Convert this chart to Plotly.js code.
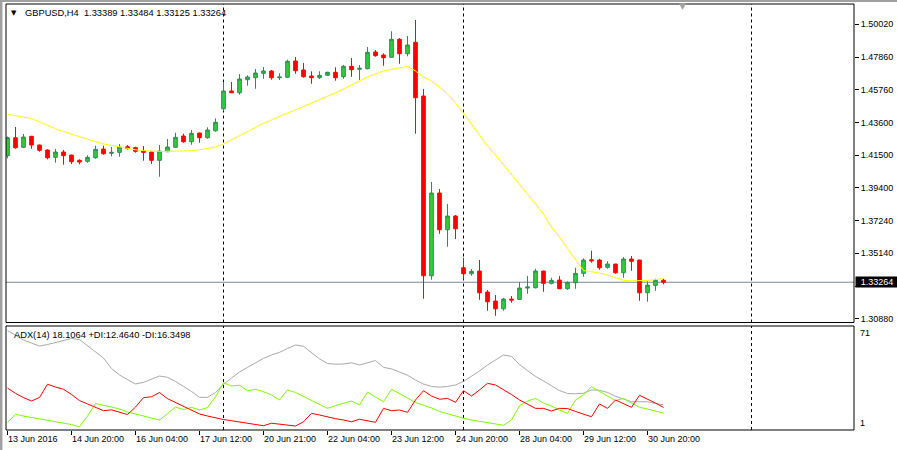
<!DOCTYPE html>
<html>
<head>
<meta charset="utf-8">
<script src="https://cdn.plot.ly/plotly-3.0.1.min.js"></script>
<style>html,body{margin:0;padding:0;background:#fff;}#chart{width:897px;height:450px;}</style>
</head>
<body>
<div id="chart"></div>
<script>
// ---- Data (GBPUSD, H4) ----
const symbolTitle = "GBPUSD,H4\u00a0\u00a01.33389 1.33484 1.33125 1.33264";
const adxTitle = "ADX(14) 18.1064 +DI:12.4640 -DI:16.3498";

const opens = [1.41473,1.42641,1.42018,1.42732,1.42167,1.41843,1.41369,1.41713,1.41518,1.41174,
1.41109,1.41343,1.41907,1.41628,1.41693,1.42057,1.41992,1.41778,1.41713,1.41174,
1.41732,1.42018,1.42751,1.42381,1.42946,1.42641,1.43095,1.44523,1.45672,1.45561,
1.46405,1.46535,1.46820,1.46970,1.46535,1.46561,1.47619,1.47035,1.46645,1.46535,
1.46691,1.46885,1.46600,1.47275,1.47080,1.47119,1.48203,1.48008,1.47859,1.49027,
1.48092,1.48832,1.45347,1.33685,1.39052,1.36670,1.37559,1.34204,1.33814,1.33990,
1.32627,1.32043,1.31543,1.32172,1.32150,1.32886,1.32906,1.33990,1.33191,1.33406,
1.32841,1.33230,1.33840,1.34723,1.34704,1.34230,1.34444,1.33879,1.34768,1.34704,
1.32581,1.33062,1.33389];
const highs = [1.42719,1.43335,1.42881,1.42760,1.42190,1.41888,1.41907,1.41843,1.41540,1.41239,
1.41499,1.42122,1.42122,1.42037,1.42232,1.42167,1.42057,1.42102,1.41740,1.42167,
1.42556,1.42965,1.42900,1.43141,1.42970,1.43316,1.43900,1.46236,1.46256,1.46775,
1.46691,1.47099,1.47229,1.47035,1.46820,1.47703,1.47878,1.47489,1.46950,1.46950,
1.46924,1.47210,1.47359,1.47813,1.47359,1.48527,1.48333,1.48118,1.49546,1.49111,
1.49241,1.50280,1.45801,1.39766,1.39311,1.38338,1.37624,1.34853,1.34120,1.34704,
1.32757,1.32432,1.32237,1.32367,1.33276,1.33665,1.34139,1.34010,1.33555,1.33665,
1.33321,1.34204,1.34814,1.35307,1.34788,1.34619,1.34460,1.34898,1.34963,1.34720,
1.33321,1.33490,1.33484];
const lows = [1.41304,1.41927,1.41973,1.41927,1.41732,1.41239,1.41018,1.40889,1.40934,1.40915,
1.41018,1.41278,1.41538,1.41434,1.41408,1.41888,1.41667,1.41148,1.40934,1.40110,
1.41710,1.42000,1.42316,1.42187,1.42316,1.42576,1.43030,1.44374,1.45540,1.45432,
1.46016,1.45821,1.46470,1.46405,1.46386,1.46540,1.46794,1.46535,1.46145,1.46450,
1.46665,1.46340,1.46470,1.46600,1.46386,1.47080,1.47898,1.47314,1.47840,1.47443,
1.47924,1.42900,1.32192,1.33425,1.36410,1.35567,1.36066,1.33451,1.33685,1.32127,
1.31413,1.31089,1.31413,1.31932,1.32130,1.32516,1.32867,1.32646,1.33127,1.32820,
1.32776,1.32841,1.33620,1.34528,1.34074,1.34139,1.33814,1.33555,1.34009,1.32062,
1.31997,1.32711,1.33125];
const closes = [1.42641,1.41992,1.42686,1.42167,1.41823,1.41343,1.41713,1.41473,1.41083,1.41064,
1.41369,1.41888,1.41602,1.41693,1.42037,1.41927,1.41758,1.41693,1.41174,1.41778,
1.42037,1.42667,1.42381,1.42926,1.42641,1.43141,1.43640,1.45672,1.45561,1.46450,
1.46580,1.46840,1.46970,1.46535,1.46580,1.47599,1.46989,1.46600,1.46535,1.46691,
1.46885,1.46535,1.47275,1.47054,1.47145,1.48183,1.47963,1.47833,1.49027,1.48092,
1.48657,1.45237,1.33685,1.39052,1.36670,1.37559,1.36735,1.33814,1.33970,1.32581,
1.31997,1.31543,1.32172,1.32108,1.32886,1.32951,1.33990,1.33191,1.33386,1.32841,
1.33256,1.33840,1.34704,1.34658,1.34204,1.34444,1.33879,1.34768,1.34619,1.32581,
1.33081,1.33389,1.33264];
const movingAvg = [1.44160,1.44082,1.44004,1.43887,1.43679,1.43446,1.43218,1.43043,1.42868,1.42699,
1.42544,1.42381,1.42238,1.42135,1.42031,1.41940,1.41856,1.41804,1.41765,1.41758,
1.41758,1.41765,1.41771,1.41797,1.41856,1.41933,1.42037,1.42232,1.42511,1.42777,
1.43037,1.43303,1.43569,1.43809,1.44023,1.44237,1.44452,1.44666,1.44880,1.45094,
1.45308,1.45542,1.45801,1.46061,1.46321,1.46580,1.46781,1.46970,1.47074,1.47177,
1.47275,1.46970,1.46580,1.46321,1.45931,1.45477,1.44893,1.44224,1.43530,1.42816,
1.42102,1.41518,1.40902,1.40285,1.39604,1.38987,1.38338,1.37689,1.36845,1.36196,
1.35450,1.34704,1.34022,1.33938,1.33860,1.33730,1.33568,1.33393,1.33354,1.33354,
1.33386,1.33438,1.33516];
const adx = [68.6,65.2,62.2,60.1,58.1,59.1,60.5,61.8,63.2,62.5,
58.4,53.7,49.9,42.8,38.4,35.2,32.3,33.4,35.3,37.7,
36.8,34.0,30.6,27.2,23.2,23.2,26.5,32.1,36.3,40.4,
43.6,46.9,49.7,52.0,53.8,56.4,58.8,57.9,53.3,49.3,
46.2,45.7,45.9,46.7,45.2,46.9,48.2,43.6,42.5,40.4,
38.2,35.0,32.3,30.6,30.1,30.6,31.6,34.0,37.4,41.1,
45.2,48.6,52.0,51.0,45.5,41.4,37.4,34.3,31.2,27.8,
25.8,25.6,26.0,28.2,28.0,26.5,23.9,21.9,20.2,20.2,
20.2,19.0,18.1064];
const plusDI = [6.1,11.7,10.5,9.5,8.5,7.6,6.8,5.9,4.7,3.2,
10.5,19.0,18.0,16.6,15.3,13.2,11.9,10.5,9.2,7.8,
12.2,16.6,14.9,16.4,14.6,16.2,23.6,33.1,30.9,31.4,
27.7,28.7,27.0,24.8,21.4,28.2,26.5,23.8,20.7,18.3,
15.7,17.6,19.3,20.7,18.0,26.8,23.4,20.2,28.7,25.5,
22.7,19.7,18.0,16.0,13.6,11.9,10.2,9.0,7.8,6.8,
5.8,4.9,4.2,7.8,17.6,20.7,22.5,19.3,17.3,14.6,
12.3,21.4,24.8,30.4,27.5,24.1,21.0,22.5,19.3,16.4,
15.3,13.9,12.464];
const minusDI = [29.5,25.9,23.0,20.7,23.1,32.1,30.2,28.7,25.1,21.0,
18.7,16.6,14.1,14.7,12.9,11.5,16.6,23.0,23.6,26.5,
22.3,19.6,16.8,14.3,11.9,10.5,9.2,8.1,7.3,6.4,
5.6,4.7,3.9,5.6,5.1,4.4,3.7,6.6,12.3,11.2,
9.8,8.7,7.8,6.6,8.3,7.1,6.2,15.7,14.1,14.6,
13.0,21.4,27.7,24.1,21.9,22.5,19.8,27.7,24.1,28.2,
32.7,31.6,28.5,25.1,21.4,18.3,15.7,15.7,13.9,15.7,
15.6,13.6,11.7,10.0,18.7,15.7,21.4,19.0,16.4,24.6,
22.1,19.3,16.3498];

const tickBars = [0,8,16,24,32,40,48,56,64,72,80];
const tickLabels = ["13 Jun 2016","14 Jun 20:00","16 Jun 04:00","17 Jun 12:00","20 Jun 21:00",
  "22 Jun 04:00","23 Jun 12:00","24 Jun 20:00","28 Jun 04:00","29 Jun 12:00","30 Jun 20:00"];
const priceTicks = [1.30880,1.32980,1.35140,1.37240,1.39400,1.41500,1.43600,1.45760,1.47860,1.50020];
const separators = [27,57,93];
const adxScale = [1,71];
const bidPrice = 1.33264;

// ---- Chart ----
const idx = opens.map((_, i) => i);
const FONT = "Liberation Sans, Arial, sans-serif";
// the tick right under the bid-price box is hidden by it in the reference
const priceTickText = priceTicks.map(v => Math.abs(v - bidPrice) < 0.006 ? '' : v.toFixed(5));

const traces = [
  {
    type: 'candlestick', x: idx, open: opens, high: highs, low: lows, close: closes,
    xaxis: 'x', yaxis: 'y',
    increasing: {line: {color: '#2e8b57', width: 1}, fillcolor: '#32cd32'},
    decreasing: {line: {color: '#ff0000', width: 1}, fillcolor: '#ff0000'},
    whiskerwidth: 0, hoverinfo: 'skip'
  },
  {type: 'scatter', mode: 'lines', x: idx, y: movingAvg, xaxis: 'x', yaxis: 'y',
   line: {color: '#ffff00', width: 1}, hoverinfo: 'skip'},
  {type: 'scatter', mode: 'lines', x: idx, y: adx, xaxis: 'x', yaxis: 'y2',
   line: {color: '#a9a9a9', width: 1}, hoverinfo: 'skip'},
  {type: 'scatter', mode: 'lines', x: idx, y: plusDI, xaxis: 'x', yaxis: 'y2',
   line: {color: '#7cfc00', width: 1}, hoverinfo: 'skip'},
  {type: 'scatter', mode: 'lines', x: idx, y: minusDI, xaxis: 'x', yaxis: 'y2',
   line: {color: '#ff0000', width: 1}, hoverinfo: 'skip'}
];

const shapes = [
  {type: 'rect', xref: 'paper', yref: 'y domain', x0: 0, x1: 1, y0: 0, y1: 1, line: {color: 'black', width: 1}},
  {type: 'rect', xref: 'paper', yref: 'y2 domain', x0: 0, x1: 1, y0: 0, y1: 1, line: {color: 'black', width: 1}},
  {type: 'line', xref: 'paper', yref: 'y', x0: 0, x1: 1, y0: bidPrice, y1: bidPrice, layer: 'below',
   line: {color: '#778899', width: 1}},
  {type: 'rect', xref: 'paper', yref: 'paper', x0: -0.0075, x1: -0.0042, y0: -0.06, y1: 1.02,
   fillcolor: '#a0a0a0', line: {width: 0}},
  {type: 'rect', xref: 'paper', yref: 'paper', x0: -0.0075, x1: 1.06, y0: 1.0047, y1: 1.02,
   fillcolor: '#a0a0a0', line: {width: 0}}
];
separators.forEach(s => {
  ['y domain', 'y2 domain'].forEach(r => {
    shapes.push({type: 'line', xref: 'x', yref: r, x0: s, x1: s, y0: 0, y1: 1, layer: 'below',
      line: {color: 'black', width: 1, dash: '3px,3px'}});
  });
});

const annotations = [
  {xref: 'paper', yref: 'paper', x: 0.0195, y: 0.979, xanchor: 'left', yanchor: 'middle',
   text: symbolTitle, showarrow: false, font: {family: FONT, size: 9.3, color: 'black'}},
  {xref: 'paper', yref: 'paper', x: 0.0095, y: 0.979, xanchor: 'center', yanchor: 'middle',
   text: '\u25BC', showarrow: false, font: {family: 'DejaVu Sans', size: 7, color: 'black'}},
  {xref: 'paper', yref: 'paper', x: 0.7983, y: 0.996, xanchor: 'center', yanchor: 'middle',
   text: '\u25BC', showarrow: false, font: {family: 'DejaVu Sans', size: 9, color: '#a0a0a0'}},
  {xref: 'paper', yref: 'paper', x: 0.0065, y: 0.223, xanchor: 'left', yanchor: 'middle',
   text: adxTitle, showarrow: false, font: {family: FONT, size: 9.3, color: 'black'}},
  {xref: 'paper', yref: 'y2', x: 1, y: 71.68, xanchor: 'left', yanchor: 'top', xshift: 4,
   text: String(adxScale[1]), showarrow: false, font: {family: FONT, size: 9, color: 'black'}},
  {xref: 'paper', yref: 'y2', x: 1, y: 1, xanchor: 'left', yanchor: 'bottom', xshift: 4,
   text: String(adxScale[0]), showarrow: false, font: {family: FONT, size: 9, color: 'black'}},
  {xref: 'paper', yref: 'y', x: 1, y: bidPrice, xanchor: 'left', yanchor: 'middle', xshift: 1,
   text: bidPrice.toFixed(5), showarrow: false, bgcolor: 'black', borderpad: 0,
   font: {family: FONT, size: 9, color: 'white'}, width: 42, height: 10, align: 'center'}
];

const layout = {
  width: 897, height: 450,
  margin: {l: 6, r: 43, t: 4, b: 20, pad: 0},
  paper_bgcolor: 'white', plot_bgcolor: 'white',
  showlegend: false, dragmode: false, hovermode: false,
  boxgap: 0.35,
  xaxis: {
    range: [-0.1875, 105.8125], anchor: 'y2', rangeslider: {visible: false},
    showgrid: false, zeroline: false, showline: false, fixedrange: true,
    tickmode: 'array', tickvals: tickBars, ticktext: tickLabels,
    ticks: 'outside', ticklen: 4, tickcolor: 'black', tickwidth: 1,
    ticklabelposition: 'outside right',
    tickfont: {family: FONT, size: 9, color: 'black'}
  },
  yaxis: {
    domain: [0.2523, 1], range: [1.3065, 1.51318], anchor: 'x', side: 'right',
    showgrid: false, zeroline: false, showline: false, fixedrange: true,
    tickmode: 'array', tickvals: priceTicks, ticktext: priceTickText,
    ticks: 'outside', ticklen: 4, tickcolor: 'black', tickwidth: 1,
    tickfont: {family: FONT, size: 9, color: 'black'}
  },
  yaxis2: {
    domain: [0, 0.2441], range: [1, 71.68], anchor: 'x', side: 'right',
    showgrid: false, zeroline: false, showline: false, fixedrange: true,
    showticklabels: false, ticks: ''
  },
  shapes: shapes,
  annotations: annotations
};

Plotly.newPlot('chart', traces, layout, {displayModeBar: false, staticPlot: true});
</script>
</body>
</html>
